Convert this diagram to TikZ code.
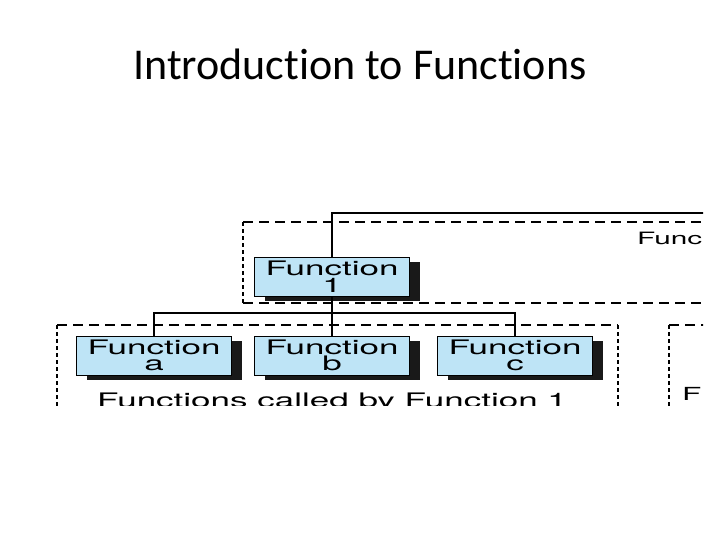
\documentclass[tikz,border=0pt]{standalone}
\usepackage{fontspec}
\setmainfont{Carlito}[Ligatures=NoCommon]
\newfontfamily\diagfont{TeX Gyre Heros}
\usetikzlibrary{shadows}

\definecolor{boxblue}{RGB}{190,228,246}
\newcommand{\wide}[1]{\scalebox{1.75}[1]{#1}}

\tikzset{
  funcbox/.style={draw=black, line width=1pt, fill=boxblue,
    minimum width=155pt, minimum height=39pt, inner sep=0pt, align=center,
    font=\diagfont\fontsize{20}{16.5}\selectfont,
    drop shadow={shadow xshift=10pt, shadow yshift=-5pt, fill=black!90, opacity=1}},
  link/.style={line width=1.6pt},
  hdash/.style={line width=2pt, dash pattern=on 10pt off 6pt},
  vdash/.style={line width=2.4pt, dash pattern=on 4pt off 3pt},
  lbl/.style={inner sep=0pt, font=\diagfont\fontsize{20}{24}\selectfont}
}

\begin{document}
\begin{tikzpicture}[x=1pt, y=-1pt]
    \useasboundingbox (0,0) rectangle (720,540);
    % title
    \node[anchor=base, inner sep=0pt] (title) at (360,80) {\fontsize{44}{50}\selectfont Introduction to Functions};
    \begin{scope}
        \clip (0,205) rectangle (703,405);
        % dashed groups
        \draw[hdash] (243,222) -- (720,222);
        \draw[hdash] (243,303) -- (720,303);
        \draw[vdash] (243,222) -- (243,303);
        \draw[hdash] (57,325) -- (618,325);
        \draw[vdash] (57,325) -- (57,410);
        \draw[vdash] (618,325) -- (618,410);
        \draw[hdash] (669,325) -- (720,325);
        \draw[vdash] (669,325) -- (669,410);
        % boxes
        \node[funcbox] (f1) at (332,276.5) {\wide{Function}\\\wide{1}};
        \node[funcbox] (fa) at (154,355.5) {\wide{Function}\\\wide{a}};
        \node[funcbox] (fb) at (332,355.5) {\wide{Function}\\\wide{b}};
        \node[funcbox] (fc) at (515,355.5) {\wide{Function}\\\wide{c}};
        % connectors
        \coordinate (top) at (332,213);
        \coordinate (topend) at (720,213);
        \coordinate (bus) at (332,313);
        \draw[link] (f1.north) -- (top) -- (topend);
        \draw[link] (f1.south) -- (bus);
        \draw[link] (fa.north) |- (bus) -| (fc.north);
        \draw[link] (bus) -- (fb.north);
        % labels
        \node[lbl, anchor=base west, font=\diagfont\fontsize{17}{20}\selectfont] (func) at (637,244) {\wide{Func}};
        \node[lbl, anchor=base] (called) at (332,407.5) {\wide{Functions called by Function 1}};
        \node[lbl, anchor=base west, font=\diagfont\fontsize{18}{20}\selectfont] (nextf) at (682,400) {\wide{F}};
    \end{scope}
\end{tikzpicture}
\end{document}
